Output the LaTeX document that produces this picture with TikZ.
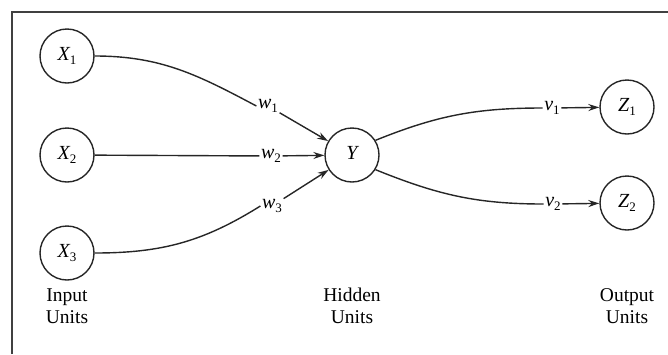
\documentclass[tikz,border=0pt]{standalone}
\usepackage{fontspec}
\setmainfont{Liberation Serif}
\usetikzlibrary{arrows.meta}
\newcommand{\lbl}[2]{{\itshape #1}\raisebox{-0.35ex}{\fontsize{13}{13}\selectfont #2}}
\begin{document}
\begin{tikzpicture}[x=1pt,y=-1pt,
  unit/.style={draw=black!85,line width=1.4pt,circle,minimum size=54pt,inner sep=0pt,font=\fontsize{20}{22}\selectfont},
  wlab/.style={inner sep=1.5pt,font=\fontsize{20}{22}\selectfont},
  unitcap/.style={align=center,font=\fontsize{19.5}{22}\selectfont},
  conn/.style={draw=black!85,line width=1.4pt},
  arr/.style={conn,-{Stealth[length=11pt,width=7pt]}}]
\useasboundingbox (0,0) rectangle (668,354);
\draw[black!75,line width=1.2pt] (12,354) -- (12,12) -- (668,12);
\node[unit] (x1) at (67,56) {\lbl{X}{1}};
\node[unit] (x2) at (67,155) {\lbl{X}{2}};
\node[unit] (x3) at (67,253) {\lbl{X}{3}};
\node[unit] (y) at (352,155) {\lbl{Y}{}};
\node[unit] (z1) at (627,107) {\lbl{Z}{1}};
\node[unit] (z2) at (627,203) {\lbl{Z}{2}};
\node[wlab] (w1) at (268,106) {\lbl{w}{1}};
\node[wlab] (w2) at (271,156) {\lbl{w}{2}};
\node[wlab] (w3) at (272,206) {\lbl{w}{3}};
\node[wlab] (v1) at (552,108) {\lbl{v}{1}};
\node[wlab] (v2) at (553,204) {\lbl{v}{2}};
\node[unitcap] (lin) at (67,306) {Input\\Units};
\node[unitcap] (lhid) at (352,306) {Hidden\\Units};
\node[unitcap] (lout) at (627,306) {Output\\Units};
\draw[conn] (x1.east) to[out=0,in=152] (w1.west);
\draw[arr] (w1) -- (y);
\draw[conn] (x2) -- (w2);
\draw[arr] (w2) -- (y);
\draw[conn] (x3.east) to[out=0,in=-148] (w3.west);
\draw[arr] (w3) -- (y);
\draw[conn] (y.32) to[out=22,in=180] (v1.west);
\draw[arr] (v1) -- (z1);
\draw[conn] (y.-32) to[out=-22,in=180] (v2.west);
\draw[arr] (v2) -- (z2);
\end{tikzpicture}
\end{document}
